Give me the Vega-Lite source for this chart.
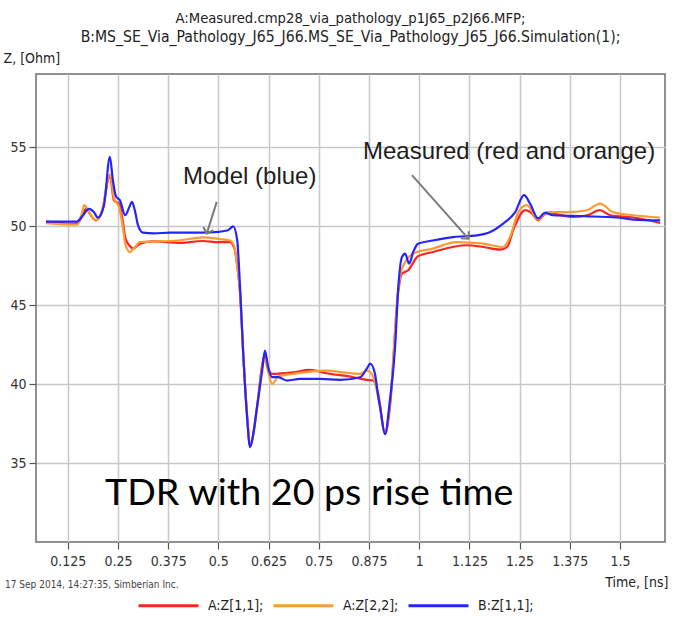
{
  "$schema": "https://vega.github.io/schema/vega-lite/v6.json",
  "width": 629,
  "height": 468,
  "autosize": {"type": "none"},
  "padding": {"left": 36, "top": 74, "right": 8, "bottom": 77},
  "background": "white",
  "title": {
    "text": "A:Measured.cmp28_via_pathology_p1J65_p2J66.MFP;",
    "subtitle": "B:MS_SE_Via_Pathology_J65_J66.MS_SE_Via_Pathology_J65_J66.Simulation(1);",
    "font": "Liberation Sans Narrow, DejaVu Sans Condensed, sans-serif",
    "subtitleFont": "Liberation Sans Narrow, DejaVu Sans Condensed, sans-serif",
    "fontSize": 14.7,
    "subtitleFontSize": 15.6,
    "fontWeight": "normal",
    "color": "#222222",
    "subtitleColor": "#222222",
    "anchor": "middle",
    "frame": "group",
    "subtitlePadding": 5,
    "offset": 5
  },
  "config": {
    "view": {"stroke": "#6e6e6e", "strokeWidth": 1.5},
    "axis": {
      "labelFont": "Liberation Sans Narrow, DejaVu Sans Condensed, sans-serif",
      "labelFontSize": 14,
      "labelColor": "#333333",
      "titleFont": "Liberation Sans Narrow, DejaVu Sans Condensed, sans-serif",
      "titleFontSize": 14,
      "titleFontWeight": "normal",
      "titleColor": "#222222",
      "gridColor": "#c8c8c8",
      "gridWidth": 1.5,
      "tickColor": "#555555",
      "tickWidth": 1.2,
      "tickSize": 7,
      "domain": false
    },
    "legend": {
      "labelFont": "Liberation Sans Narrow, DejaVu Sans Condensed, sans-serif",
      "labelFontSize": 14,
      "labelColor": "#222222"
    }
  },
  "datasets": {
    "curves": [
      {"series": "A:Z[1,1];", "t": 0.071, "z": 50.3},
      {"series": "A:Z[1,1];", "t": 0.148, "z": 50.15},
      {"series": "A:Z[1,1];", "t": 0.160, "z": 50.6},
      {"series": "A:Z[1,1];", "t": 0.171, "z": 51.13},
      {"series": "A:Z[1,1];", "t": 0.180, "z": 50.8},
      {"series": "A:Z[1,1];", "t": 0.195, "z": 50.38},
      {"series": "A:Z[1,1];", "t": 0.210, "z": 50.9},
      {"series": "A:Z[1,1];", "t": 0.230, "z": 53.2},
      {"series": "A:Z[1,1];", "t": 0.240, "z": 51.65},
      {"series": "A:Z[1,1];", "t": 0.253, "z": 51.44},
      {"series": "A:Z[1,1];", "t": 0.263, "z": 50.17},
      {"series": "A:Z[1,1];", "t": 0.268, "z": 49.3},
      {"series": "A:Z[1,1];", "t": 0.278, "z": 48.8},
      {"series": "A:Z[1,1];", "t": 0.288, "z": 48.6},
      {"series": "A:Z[1,1];", "t": 0.305, "z": 48.9},
      {"series": "A:Z[1,1];", "t": 0.338, "z": 49.05},
      {"series": "A:Z[1,1];", "t": 0.405, "z": 48.95},
      {"series": "A:Z[1,1];", "t": 0.462, "z": 49.07},
      {"series": "A:Z[1,1];", "t": 0.500, "z": 49.0},
      {"series": "A:Z[1,1];", "t": 0.529, "z": 49.0},
      {"series": "A:Z[1,1];", "t": 0.540, "z": 48.6},
      {"series": "A:Z[1,1];", "t": 0.547, "z": 47.5},
      {"series": "A:Z[1,1];", "t": 0.554, "z": 45.8},
      {"series": "A:Z[1,1];", "t": 0.562, "z": 41.9},
      {"series": "A:Z[1,1];", "t": 0.571, "z": 38.2},
      {"series": "A:Z[1,1];", "t": 0.579, "z": 36.1},
      {"series": "A:Z[1,1];", "t": 0.596, "z": 38.5},
      {"series": "A:Z[1,1];", "t": 0.609, "z": 41.2},
      {"series": "A:Z[1,1];", "t": 0.616, "z": 41.92},
      {"series": "A:Z[1,1];", "t": 0.624, "z": 41.0},
      {"series": "A:Z[1,1];", "t": 0.634, "z": 40.65},
      {"series": "A:Z[1,1];", "t": 0.686, "z": 40.75},
      {"series": "A:Z[1,1];", "t": 0.728, "z": 40.9},
      {"series": "A:Z[1,1];", "t": 0.770, "z": 40.69},
      {"series": "A:Z[1,1];", "t": 0.836, "z": 40.44},
      {"series": "A:Z[1,1];", "t": 0.870, "z": 40.27},
      {"series": "A:Z[1,1];", "t": 0.885, "z": 40.23},
      {"series": "A:Z[1,1];", "t": 0.898, "z": 39.4},
      {"series": "A:Z[1,1];", "t": 0.915, "z": 36.84},
      {"series": "A:Z[1,1];", "t": 0.927, "z": 38.5},
      {"series": "A:Z[1,1];", "t": 0.948, "z": 45.9},
      {"series": "A:Z[1,1];", "t": 0.957, "z": 47.0},
      {"series": "A:Z[1,1];", "t": 0.972, "z": 47.2},
      {"series": "A:Z[1,1];", "t": 0.997, "z": 48.1},
      {"series": "A:Z[1,1];", "t": 1.034, "z": 48.37},
      {"series": "A:Z[1,1];", "t": 1.118, "z": 48.8},
      {"series": "A:Z[1,1];", "t": 1.160, "z": 48.69},
      {"series": "A:Z[1,1];", "t": 1.202, "z": 48.52},
      {"series": "A:Z[1,1];", "t": 1.219, "z": 48.69},
      {"series": "A:Z[1,1];", "t": 1.234, "z": 49.75},
      {"series": "A:Z[1,1];", "t": 1.264, "z": 51.02},
      {"series": "A:Z[1,1];", "t": 1.281, "z": 50.8},
      {"series": "A:Z[1,1];", "t": 1.296, "z": 50.38},
      {"series": "A:Z[1,1];", "t": 1.318, "z": 50.85},
      {"series": "A:Z[1,1];", "t": 1.383, "z": 50.6},
      {"series": "A:Z[1,1];", "t": 1.418, "z": 50.7},
      {"series": "A:Z[1,1];", "t": 1.450, "z": 51.02},
      {"series": "A:Z[1,1];", "t": 1.476, "z": 50.7},
      {"series": "A:Z[1,1];", "t": 1.533, "z": 50.56},
      {"series": "A:Z[1,1];", "t": 1.600, "z": 50.21},

      {"series": "A:Z[2,2];", "t": 0.071, "z": 50.2},
      {"series": "A:Z[2,2];", "t": 0.148, "z": 50.1},
      {"series": "A:Z[2,2];", "t": 0.160, "z": 50.8},
      {"series": "A:Z[2,2];", "t": 0.166, "z": 51.34},
      {"series": "A:Z[2,2];", "t": 0.178, "z": 50.9},
      {"series": "A:Z[2,2];", "t": 0.195, "z": 50.38},
      {"series": "A:Z[2,2];", "t": 0.210, "z": 51.0},
      {"series": "A:Z[2,2];", "t": 0.230, "z": 53.3},
      {"series": "A:Z[2,2];", "t": 0.240, "z": 51.8},
      {"series": "A:Z[2,2];", "t": 0.253, "z": 51.2},
      {"series": "A:Z[2,2];", "t": 0.263, "z": 49.8},
      {"series": "A:Z[2,2];", "t": 0.268, "z": 48.9},
      {"series": "A:Z[2,2];", "t": 0.280, "z": 48.37},
      {"series": "A:Z[2,2];", "t": 0.290, "z": 48.6},
      {"series": "A:Z[2,2];", "t": 0.305, "z": 49.0},
      {"series": "A:Z[2,2];", "t": 0.400, "z": 49.1},
      {"series": "A:Z[2,2];", "t": 0.462, "z": 49.3},
      {"series": "A:Z[2,2];", "t": 0.500, "z": 49.2},
      {"series": "A:Z[2,2];", "t": 0.529, "z": 49.1},
      {"series": "A:Z[2,2];", "t": 0.540, "z": 48.7},
      {"series": "A:Z[2,2];", "t": 0.547, "z": 47.5},
      {"series": "A:Z[2,2];", "t": 0.554, "z": 45.8},
      {"series": "A:Z[2,2];", "t": 0.562, "z": 41.9},
      {"series": "A:Z[2,2];", "t": 0.571, "z": 38.2},
      {"series": "A:Z[2,2];", "t": 0.579, "z": 36.2},
      {"series": "A:Z[2,2];", "t": 0.596, "z": 38.4},
      {"series": "A:Z[2,2];", "t": 0.609, "z": 41.0},
      {"series": "A:Z[2,2];", "t": 0.614, "z": 41.6},
      {"series": "A:Z[2,2];", "t": 0.624, "z": 40.8},
      {"series": "A:Z[2,2];", "t": 0.634, "z": 40.0},
      {"series": "A:Z[2,2];", "t": 0.649, "z": 40.48},
      {"series": "A:Z[2,2];", "t": 0.686, "z": 40.65},
      {"series": "A:Z[2,2];", "t": 0.770, "z": 40.86},
      {"series": "A:Z[2,2];", "t": 0.811, "z": 40.75},
      {"series": "A:Z[2,2];", "t": 0.853, "z": 40.65},
      {"series": "A:Z[2,2];", "t": 0.870, "z": 40.86},
      {"series": "A:Z[2,2];", "t": 0.885, "z": 40.5},
      {"series": "A:Z[2,2];", "t": 0.898, "z": 39.2},
      {"series": "A:Z[2,2];", "t": 0.915, "z": 36.9},
      {"series": "A:Z[2,2];", "t": 0.927, "z": 38.8},
      {"series": "A:Z[2,2];", "t": 0.948, "z": 46.0},
      {"series": "A:Z[2,2];", "t": 0.957, "z": 47.3},
      {"series": "A:Z[2,2];", "t": 0.985, "z": 48.27},
      {"series": "A:Z[2,2];", "t": 1.034, "z": 48.59},
      {"series": "A:Z[2,2];", "t": 1.092, "z": 49.0},
      {"series": "A:Z[2,2];", "t": 1.160, "z": 48.9},
      {"series": "A:Z[2,2];", "t": 1.209, "z": 48.69},
      {"series": "A:Z[2,2];", "t": 1.226, "z": 49.32},
      {"series": "A:Z[2,2];", "t": 1.247, "z": 50.9},
      {"series": "A:Z[2,2];", "t": 1.268, "z": 51.34},
      {"series": "A:Z[2,2];", "t": 1.296, "z": 50.43},
      {"series": "A:Z[2,2];", "t": 1.318, "z": 50.9},
      {"series": "A:Z[2,2];", "t": 1.368, "z": 50.9},
      {"series": "A:Z[2,2];", "t": 1.418, "z": 51.02},
      {"series": "A:Z[2,2];", "t": 1.450, "z": 51.44},
      {"series": "A:Z[2,2];", "t": 1.483, "z": 50.9},
      {"series": "A:Z[2,2];", "t": 1.533, "z": 50.7},
      {"series": "A:Z[2,2];", "t": 1.600, "z": 50.56},

      {"series": "B:Z[1,1];", "t": 0.071, "z": 50.3},
      {"series": "B:Z[1,1];", "t": 0.110, "z": 50.3},
      {"series": "B:Z[1,1];", "t": 0.148, "z": 50.3},
      {"series": "B:Z[1,1];", "t": 0.160, "z": 50.6},
      {"series": "B:Z[1,1];", "t": 0.178, "z": 51.1},
      {"series": "B:Z[1,1];", "t": 0.190, "z": 50.9},
      {"series": "B:Z[1,1];", "t": 0.200, "z": 50.55},
      {"series": "B:Z[1,1];", "t": 0.215, "z": 51.3},
      {"series": "B:Z[1,1];", "t": 0.230, "z": 54.4},
      {"series": "B:Z[1,1];", "t": 0.237, "z": 53.0},
      {"series": "B:Z[1,1];", "t": 0.245, "z": 51.9},
      {"series": "B:Z[1,1];", "t": 0.255, "z": 51.65},
      {"series": "B:Z[1,1];", "t": 0.268, "z": 50.7},
      {"series": "B:Z[1,1];", "t": 0.278, "z": 51.2},
      {"series": "B:Z[1,1];", "t": 0.285, "z": 51.55},
      {"series": "B:Z[1,1];", "t": 0.293, "z": 50.9},
      {"series": "B:Z[1,1];", "t": 0.300, "z": 50.07},
      {"series": "B:Z[1,1];", "t": 0.312, "z": 49.6},
      {"series": "B:Z[1,1];", "t": 0.340, "z": 49.55},
      {"series": "B:Z[1,1];", "t": 0.380, "z": 49.6},
      {"series": "B:Z[1,1];", "t": 0.420, "z": 49.6},
      {"series": "B:Z[1,1];", "t": 0.460, "z": 49.6},
      {"series": "B:Z[1,1];", "t": 0.500, "z": 49.65},
      {"series": "B:Z[1,1];", "t": 0.524, "z": 49.75},
      {"series": "B:Z[1,1];", "t": 0.537, "z": 50.0},
      {"series": "B:Z[1,1];", "t": 0.547, "z": 49.1},
      {"series": "B:Z[1,1];", "t": 0.554, "z": 46.15},
      {"series": "B:Z[1,1];", "t": 0.562, "z": 41.9},
      {"series": "B:Z[1,1];", "t": 0.571, "z": 38.1},
      {"series": "B:Z[1,1];", "t": 0.579, "z": 36.0},
      {"series": "B:Z[1,1];", "t": 0.588, "z": 37.0},
      {"series": "B:Z[1,1];", "t": 0.596, "z": 38.5},
      {"series": "B:Z[1,1];", "t": 0.609, "z": 40.86},
      {"series": "B:Z[1,1];", "t": 0.616, "z": 42.13},
      {"series": "B:Z[1,1];", "t": 0.624, "z": 41.07},
      {"series": "B:Z[1,1];", "t": 0.634, "z": 40.44},
      {"series": "B:Z[1,1];", "t": 0.649, "z": 40.44},
      {"series": "B:Z[1,1];", "t": 0.671, "z": 40.23},
      {"series": "B:Z[1,1];", "t": 0.703, "z": 40.33},
      {"series": "B:Z[1,1];", "t": 0.753, "z": 40.33},
      {"series": "B:Z[1,1];", "t": 0.803, "z": 40.27},
      {"series": "B:Z[1,1];", "t": 0.853, "z": 40.44},
      {"series": "B:Z[1,1];", "t": 0.870, "z": 41.0},
      {"series": "B:Z[1,1];", "t": 0.878, "z": 41.3},
      {"series": "B:Z[1,1];", "t": 0.890, "z": 40.65},
      {"series": "B:Z[1,1];", "t": 0.898, "z": 39.2},
      {"series": "B:Z[1,1];", "t": 0.903, "z": 38.5},
      {"series": "B:Z[1,1];", "t": 0.915, "z": 36.84},
      {"series": "B:Z[1,1];", "t": 0.927, "z": 38.96},
      {"series": "B:Z[1,1];", "t": 0.940, "z": 42.34},
      {"series": "B:Z[1,1];", "t": 0.948, "z": 46.15},
      {"series": "B:Z[1,1];", "t": 0.957, "z": 48.05},
      {"series": "B:Z[1,1];", "t": 0.965, "z": 48.27},
      {"series": "B:Z[1,1];", "t": 0.975, "z": 47.63},
      {"series": "B:Z[1,1];", "t": 0.985, "z": 48.37},
      {"series": "B:Z[1,1];", "t": 0.997, "z": 48.9},
      {"series": "B:Z[1,1];", "t": 1.034, "z": 49.1},
      {"series": "B:Z[1,1];", "t": 1.085, "z": 49.32},
      {"series": "B:Z[1,1];", "t": 1.144, "z": 49.43},
      {"series": "B:Z[1,1];", "t": 1.177, "z": 49.64},
      {"series": "B:Z[1,1];", "t": 1.209, "z": 50.17},
      {"series": "B:Z[1,1];", "t": 1.239, "z": 50.9},
      {"series": "B:Z[1,1];", "t": 1.261, "z": 51.97},
      {"series": "B:Z[1,1];", "t": 1.276, "z": 51.44},
      {"series": "B:Z[1,1];", "t": 1.296, "z": 50.5},
      {"series": "B:Z[1,1];", "t": 1.313, "z": 50.85},
      {"series": "B:Z[1,1];", "t": 1.333, "z": 50.7},
      {"series": "B:Z[1,1];", "t": 1.409, "z": 50.64},
      {"series": "B:Z[1,1];", "t": 1.492, "z": 50.56},
      {"series": "B:Z[1,1];", "t": 1.533, "z": 50.43},
      {"series": "B:Z[1,1];", "t": 1.600, "z": 50.38}
    ],
    "arrows": [
      {"id": "model", "t1": 0.496, "z1": 51.55, "t2": 0.471, "z2": 49.54},
      {"id": "measured", "t1": 0.982, "z1": 53.24, "t2": 1.1225, "z2": 49.22}
    ],
    "notes": [
      {"id": "model", "t": 0.412, "z": 53.11, "label": "Model (blue)"},
      {"id": "measured", "t": 0.860, "z": 54.7, "label": "Measured (red and orange)"},
      {"id": "tdr", "t": 0.218, "z": 33.05, "label": "TDR with 20 ps rise time"},
      {"id": "footer", "t": -0.031, "z": 27.25, "label": "17 Sep 2014, 14:27:35, Simberian Inc."}
    ]
  },
  "layer": [
    {
      "data": {"name": "curves"},
      "mark": {"type": "line", "strokeWidth": 2.2, "interpolate": "monotone", "clip": true},
      "encoding": {
        "x": {
          "field": "t", "type": "quantitative",
          "scale": {"domain": [0.046, 1.612], "nice": false, "zero": false},
          "axis": {
            "values": [0.125, 0.25, 0.375, 0.5, 0.625, 0.75, 0.875, 1, 1.125, 1.25, 1.375, 1.5],
            "labelExpr": "'' + datum.value",
            "labelPadding": 5,
            "title": "Time, [ns]",
            "titleAnchor": "end",
            "titleAlign": "right",
            "titleX": 632,
            "titleY": 47,
            "titleBaseline": "bottom"
          }
        },
        "y": {
          "field": "z", "type": "quantitative",
          "scale": {"domain": [30, 59.65], "nice": false, "zero": false},
          "axis": {
            "values": [35, 40, 45, 50, 55],
            "labelPadding": 3,
            "title": "Z, [Ohm]",
            "titleAngle": 0,
            "titleAlign": "left",
            "titleAnchor": "start",
            "titleX": -33,
            "titleY": -9,
            "titleBaseline": "bottom"
          }
        },
        "color": {
          "field": "series", "type": "nominal",
          "scale": {"domain": ["A:Z[1,1];", "A:Z[2,2];", "B:Z[1,1];"], "range": ["#ff2424", "#ff9a30", "#2424ff"]},
          "legend": {
            "title": null,
            "orient": "none",
            "direction": "horizontal",
            "legendX": 101,
            "legendY": 500,
            "symbolType": "stroke",
            "symbolSize": 3600,
            "symbolStrokeWidth": 3,
            "labelOffset": 8,
            "columnPadding": 3
          }
        }
      }
    },
    {
      "data": {"name": "arrows"},
      "mark": {"type": "rule", "color": "#7a7a7a", "strokeWidth": 2},
      "encoding": {
        "x": {"field": "t1", "type": "quantitative"},
        "y": {"field": "z1", "type": "quantitative"},
        "x2": {"field": "t2"},
        "y2": {"field": "z2"}
      }
    },
    {
      "data": {"name": "arrows"},
      "transform": [{"filter": "datum.id == 'model'"}],
      "mark": {"type": "point", "shape": "M-1,1L0,0L1,1", "filled": false, "stroke": "#7a7a7a", "strokeWidth": 2, "size": 110, "angle": 197.6, "opacity": 1},
      "encoding": {
        "x": {"field": "t2", "type": "quantitative"},
        "y": {"field": "z2", "type": "quantitative"}
      }
    },
    {
      "data": {"name": "arrows"},
      "transform": [{"filter": "datum.id == 'measured'"}],
      "mark": {"type": "point", "shape": "M-1,1L0,0L1,1", "filled": false, "stroke": "#7a7a7a", "strokeWidth": 2, "size": 110, "angle": 138.2, "opacity": 1},
      "encoding": {
        "x": {"field": "t2", "type": "quantitative"},
        "y": {"field": "z2", "type": "quantitative"}
      }
    },
    {
      "data": {"name": "notes"},
      "transform": [{"filter": "datum.id == 'model' || datum.id == 'measured'"}],
      "mark": {"type": "text", "align": "left", "baseline": "middle", "font": "Liberation Sans, Arial, sans-serif", "fontSize": 24, "color": "#1e1e1e"},
      "encoding": {
        "x": {"field": "t", "type": "quantitative"},
        "y": {"field": "z", "type": "quantitative"},
        "text": {"field": "label"}
      }
    },
    {
      "data": {"name": "notes"},
      "transform": [{"filter": "datum.id == 'tdr'"}],
      "mark": {"type": "text", "align": "left", "baseline": "middle", "font": "Lato, Open Sans, sans-serif", "fontSize": 37.6, "color": "#000000"},
      "encoding": {
        "x": {"field": "t", "type": "quantitative"},
        "y": {"field": "z", "type": "quantitative"},
        "text": {"field": "label"}
      }
    },
    {
      "data": {"name": "notes"},
      "transform": [{"filter": "datum.id == 'footer'"}],
      "mark": {"type": "text", "align": "left", "baseline": "middle", "font": "Liberation Sans Narrow, DejaVu Sans Condensed, sans-serif", "fontSize": 10, "color": "#444444"},
      "encoding": {
        "x": {"field": "t", "type": "quantitative"},
        "y": {"field": "z", "type": "quantitative"},
        "text": {"field": "label"}
      }
    }
  ]
}
